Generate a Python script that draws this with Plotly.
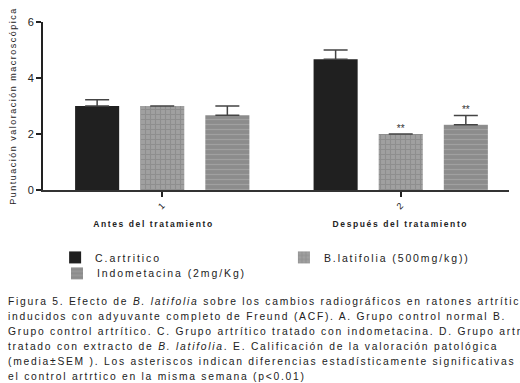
import plotly.graph_objects as go

groups = [1, 2]
group_labels = ["Antes del tratamiento", "Después del tratamiento"]
series_names = ["C.artritico", "B.latifolia (500mg/kg))", "Indometacina (2mg/Kg)"]
c_artritico = [3.0, 4.67]
c_artritico_sem = [0.22, 0.33]
b_latifolia = [3.0, 2.0]
b_latifolia_sem = [0.0, 0.0]
indometacina = [2.67, 2.33]
indometacina_sem = [0.33, 0.33]
signif = [["", ""], ["", "**"], ["", "**"]]
y_ticks = [0, 2, 4, 6]

caption_lines = [
    "Figura 5. Efecto de <i>B. latifolia</i> sobre los cambios radiográficos en ratones artríticos",
    "inducidos con adyuvante completo de Freund (ACF). A. Grupo control normal B.",
    "Grupo control artrítico. C. Grupo artrítico tratado con indometacina. D. Grupo artrítico",
    "tratado con extracto de <i>B. latifolia</i>. E. Calificación de la valoración patológica",
    "(media±SEM ). Los asteriscos indican diferencias estadísticamente significativas con",
    "el control artrtico en la misma semana (p<0.01)",
]

values = [c_artritico, b_latifolia, indometacina]
sems = [c_artritico_sem, b_latifolia_sem, indometacina_sem]
colors = ["#202020", "#a0a0a0", "#8c8c8c"]
patterns = [
    dict(shape=""),
    dict(shape="+", fgcolor="#7c7c7c", size=5, solidity=0.4),
    dict(shape="-", fgcolor="#b4b4b4", size=5, solidity=0.25),
]
legend_ids = ["legend", "legend2", "legend3"]
label_shift = [-9, 0]

fig = go.Figure()
for i in range(3):
    fig.add_trace(go.Bar(
        x=groups, y=values[i], name=series_names[i],
        offsetgroup=str(i), legend=legend_ids[i],
        marker=dict(color=colors[i], pattern=patterns[i], line=dict(width=0)),
        error_y=dict(type="data", array=sems[i], arrayminus=[0, 0], symmetric=False,
                     color="#444", thickness=1.5, width=12),
    ))
for i in range(3):
    fig.add_trace(go.Scatter(
        x=groups, y=[v + s for v, s in zip(values[i], sems[i])],
        mode="text", text=signif[i], textposition="top center",
        textfont=dict(family="Liberation Sans", size=10, color="#333333"),
        offsetgroup=str(i), showlegend=False, hoverinfo="skip", cliponaxis=False,
    ))

for g, lab, sh in zip(groups, group_labels, label_shift):
    fig.add_annotation(x=g, xref="x", y=-0.205, yref="paper", xshift=sh,
                       text="<b>" + lab + "</b>", showarrow=False, yanchor="middle",
                       font=dict(family="Liberation Sans", size=8.5, color="#222"))

for k, line in enumerate(caption_lines):
    fig.add_annotation(x=-0.0794, xref="paper", y=-0.62, yref="paper", yshift=-15 * k,
                       text=line, showarrow=False, xanchor="left", yanchor="top",
                       align="left", font=dict(family="Liberation Sans", size=10.3, color="#222"))

legend_font = dict(family="Liberation Sans", size=10.5, color="#222")
common = dict(orientation="v", xanchor="left", yanchor="top", font=legend_font,
              itemwidth=30, bgcolor="rgba(0,0,0,0)")
fig.update_layout(
    width=520, height=383,
    margin=dict(l=43, r=11, t=22, b=193),
    paper_bgcolor="white", plot_bgcolor="white",
    barmode="group", bargap=0.181, bargroupgap=0.323,
    scattermode="group",
    showlegend=True,
    legend=dict(x=0.026, y=-0.315, **common),
    legend2=dict(x=0.517, y=-0.315, **common),
    legend3=dict(x=0.030, y=-0.41, **common),
    font=dict(family="Liberation Sans", color="#222"),
)
fig.update_xaxes(range=[0.5, 2.454], tickvals=groups, ticktext=[str(g) for g in groups],
                 tickangle=-45, ticks="outside", ticklen=5, tickwidth=2, tickcolor="#222",
                 showline=True, linecolor="#333", linewidth=2, showgrid=False, zeroline=False,
                 tickfont=dict(size=9, color="#222"))
fig.update_yaxes(range=[0, 6], tickvals=y_ticks, ticks="outside", ticklen=5, tickwidth=2,
                 tickcolor="#222", showline=True, linecolor="#222", linewidth=2,
                 showgrid=False, zeroline=False,
                 tickfont=dict(family="Liberation Sans", size=11, color="#222"),
                 title=dict(text="Puntuación valoración macroscópica", standoff=10,
                            font=dict(family="Liberation Sans", size=9, color="#222")))

post = """
var gd = document.getElementById('{plot_id}');
function spacing() {
  gd.querySelectorAll('g.annotation').forEach(function(a) {
    var idx = parseInt(a.getAttribute('data-index'));
    var t = a.querySelector('text.annotation-text');
    if (!t) return;
    t.style.letterSpacing = (idx < 2) ? '1.6px' : '1.75px';
  });
  gd.querySelectorAll('text').forEach(function(t) {
    var c = t.getAttribute('class') || '';
    if (/legend\\d*text/.test(c)) t.style.letterSpacing = '1.9px';
    if (c.indexOf('ytitle') >= 0) t.style.letterSpacing = '1.5px';
  });
  gd.querySelectorAll('g[class^="legend"] [clip-path], g.scrollbox').forEach(function(s) {
    s.removeAttribute('clip-path');
  });
}
spacing();
gd.on('plotly_afterplot', spacing);
var obs = new MutationObserver(function() { spacing(); });
obs.observe(gd, {childList: true, subtree: true});
[0, 50, 150, 400, 1000].forEach(function(ms) { setTimeout(spacing, ms); });
"""
fig.write_html("out.html", post_script=post)
